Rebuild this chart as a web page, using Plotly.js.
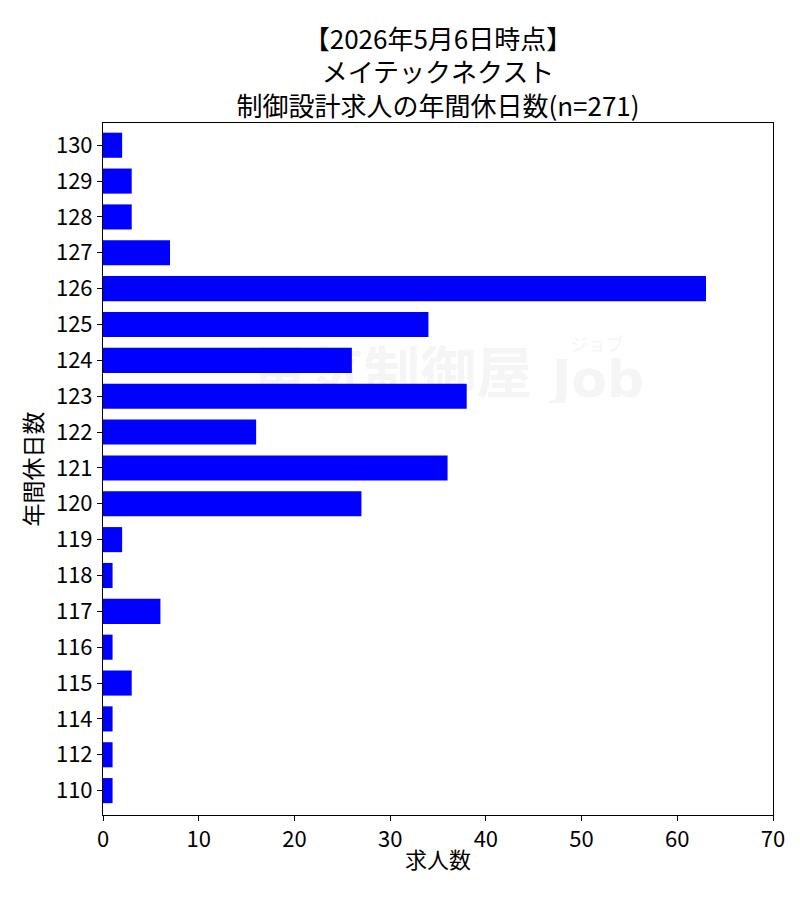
<!DOCTYPE html>
<html>
<head>
<meta charset="utf-8">
<script src="https://cdn.plot.ly/plotly-3.0.1.min.js"></script>
<style>html,body{margin:0;padding:0;background:#fff;}#chart{width:800px;height:900px;}</style>
</head>
<body>
<div id="chart"></div>
<script>
// Data (bottom to top)
const holidayDays = ['110','112','114','115','116','117','118','119','120','121','122','123','124','125','126','127','128','129','130'];
const jobCounts   = [1, 1, 1, 3, 1, 6, 1, 2, 27, 36, 16, 38, 26, 34, 63, 7, 3, 3, 2];
const titleLines  = ['【2026年5月6日時点】', 'メイテックネクスト', '制御設計求人の年間休日数(n=271)'];
const xTitle = '求人数';
const yTitle = '年間休日数';

const FONT = '"Noto Sans CJK JP", sans-serif';

const wmSvg = '<svg xmlns="http://www.w3.org/2000/svg" width="400" height="70" viewBox="0 0 400 70">' +
  '<text x="0" y="60" font-family="Noto Sans CJK JP" font-weight="700" font-size="56" fill="#f5f5f5">電気制御屋</text>' +
  '<text x="300" y="64" font-family="DejaVu Sans" font-weight="700" font-size="52" fill="#f5f5f5">Job</text>' +
  '<text x="318" y="18" font-family="Noto Sans CJK JP" font-size="18" fill="#f5f5f5">ジョブ</text>' +
  '</svg>';
const wmSrc = 'data:image/svg+xml;charset=utf-8,' + encodeURIComponent(wmSvg);

const trace = {
  type: 'bar',
  orientation: 'h',
  x: jobCounts,
  y: holidayDays,
  marker: {color: '#0000ff'},
  hoverinfo: 'x+y'
};

const layout = {
  width: 800,
  height: 900,
  margin: {l: 103, r: 27, t: 123, b: 85},
  paper_bgcolor: '#ffffff',
  plot_bgcolor: 'rgba(0,0,0,0)',
  font: {family: FONT, color: '#000', size: 22},
  bargap: 0.3,
  showlegend: false,
  title: {
    text: titleLines.join('<br>'),
    font: {family: FONT, size: 26, color: '#000'},
    x: 0.5, xref: 'paper', xanchor: 'center',
    y: 0.946, yref: 'container', yanchor: 'top'
  },
  xaxis: {
    range: [0, 70],
    dtick: 10,
    tick0: 0,
    ticks: 'outside',
    ticklen: 5,
    tickcolor: '#000',
    showgrid: false,
    zeroline: false,
    showline: true,
    mirror: true,
    linecolor: '#000',
    linewidth: 1,
    tickfont: {family: FONT, size: 22},
    title: {text: xTitle, font: {family: FONT, size: 22}, standoff: 0},
    automargin: false
  },
  yaxis: {
    type: 'category',
    range: [-0.68, 18.62],
    ticks: 'outside',
    ticklen: 5,
    tickcolor: '#000',
    showgrid: false,
    zeroline: false,
    showline: true,
    mirror: true,
    linecolor: '#000',
    linewidth: 1,
    tickfont: {family: FONT, size: 22},
    title: {text: yTitle, font: {family: FONT, size: 23}, standoff: 6},
    automargin: false
  },
  images: [{
    source: wmSrc,
    xref: 'paper', yref: 'paper',
    x: 0.2224, y: 0.6965,
    sizex: 0.597, sizey: 0.101,
    sizing: 'stretch',
    xanchor: 'left', yanchor: 'top',
    layer: 'below'
  }]
};

Plotly.newPlot('chart', [trace], layout, {displayModeBar: false, staticPlot: true});
</script>
</body>
</html>
